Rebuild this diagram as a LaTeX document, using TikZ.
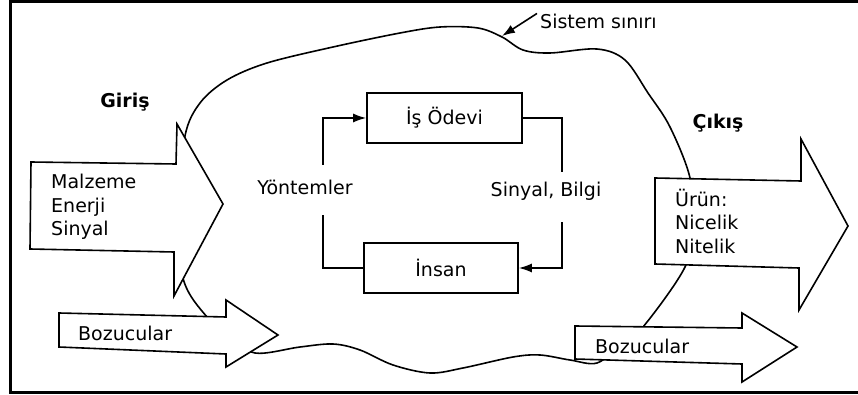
\documentclass[tikz,border=0pt]{standalone}
\usepackage{fontspec}
\setmainfont{DejaVu Sans}
\usepackage{tikz}
\usetikzlibrary{arrows.meta}

\begin{document}
\begin{tikzpicture}[x=1pt,y=-1pt,>={Latex[length=13pt,width=9pt]},
	yazi/.style={font=\fontsize{19}{23.5}\selectfont,inner sep=0pt},
	baslik/.style={font=\fontsize{19}{23.5}\selectfont\bfseries,inner sep=0pt},
	kutu/.style={draw,line width=1.6pt,fill=white,minimum height=50pt,inner sep=0pt,font=\fontsize{19}{23.5}\selectfont},
	ok/.style={draw,line width=1.6pt,fill=white,line join=miter},
	cizgi/.style={line width=1.6pt}]
		\useasboundingbox (0,0) rectangle (858,395);
		\draw[line width=3pt] (858,1.5) -- (10,1.5) -- (10,392) -- (858,392);
		
		% sistem siniri
		\draw[cizgi] plot[smooth cycle,tension=0.55] coordinates {(185,136) (200,103) (227,80) (267,63) (333,47) (400,33) (440,27) (478,28) (502,37) (523,50) (550,53) (597,49) (625,60) (648,93) (670,127) (690,178) (692,225) (685,267) (643,327) (620,345) (597,363) (570,360) (540,355) (513,357) (463,368) (430,373) (393,365) (360,350) (333,344) (300,347) (255,353) (230,335) (207,317) (183,278) (180,205)};
		
		% buyuk oklar
		\draw[ok] (31,162) -- (176,164) -- (177,124) -- (223,204) -- (174,296) -- (174,252) -- (30,249) -- cycle;
		\draw[ok] (59,313) -- (226,317) -- (226,300) -- (278,335) -- (226,367) -- (226,354) -- (59,347) -- cycle;
		\draw[ok] (655,178) -- (801,181) -- (801,139) -- (848,226) -- (799,310) -- (799,268) -- (655,264) -- cycle;
		\draw[ok] (575,326) -- (742,328) -- (742,313) -- (797,347) -- (742,382) -- (742,364) -- (575,359) -- cycle;
		
		\node[baslik] (giris) at (125,102) {Giriş};
		\node[baslik] (cikis) at (718,123) {Çıkış};
		\node[yazi,anchor=west,align=left] (girdi) at (51,207) {Malzeme\\Enerji\\Sinyal};
		\node[yazi,anchor=west,align=left] (urun) at (675,221) {Ürün:\\Nicelik\\Nitelik};
		\node[yazi,anchor=west] (bozsol) at (78,333) {Bozucular};
		\node[yazi,anchor=west] (bozsag) at (595,346) {Bozucular};
		
		% is - insan dongusu
		\node[kutu,minimum width=155pt] (odev) at (444.5,118) {İş Ödevi};
		\node[kutu,minimum width=154pt] (insan) at (441,268) {İnsan};
		\node[yazi] (yontem) at (305,187) {Yöntemler};
		\node[yazi] (sinyal) at (546,191) {Sinyal, Bilgi};
		\coordinate (yA) at (323,215);
		\coordinate (yB) at (323,165);
		\coordinate (sA) at (562,172);
		\coordinate (sB) at (562,222);
		\draw[cizgi] (insan.west) -| (yA);
		\draw[cizgi,->] (yB) |- (odev.west);
		\draw[cizgi] (odev.east) -| (sA);
		\draw[cizgi,->] (sB) |- (insan.east);
		
		\node[yazi,anchor=west,inner xsep=3pt] (sinir) at (537,21) {Sistem sınırı};
		\coordinate (sinirnokta) at (502,36);
		\draw[cizgi,->] (sinir.north west) -- (sinirnokta);
	\end{tikzpicture}
\end{document}
